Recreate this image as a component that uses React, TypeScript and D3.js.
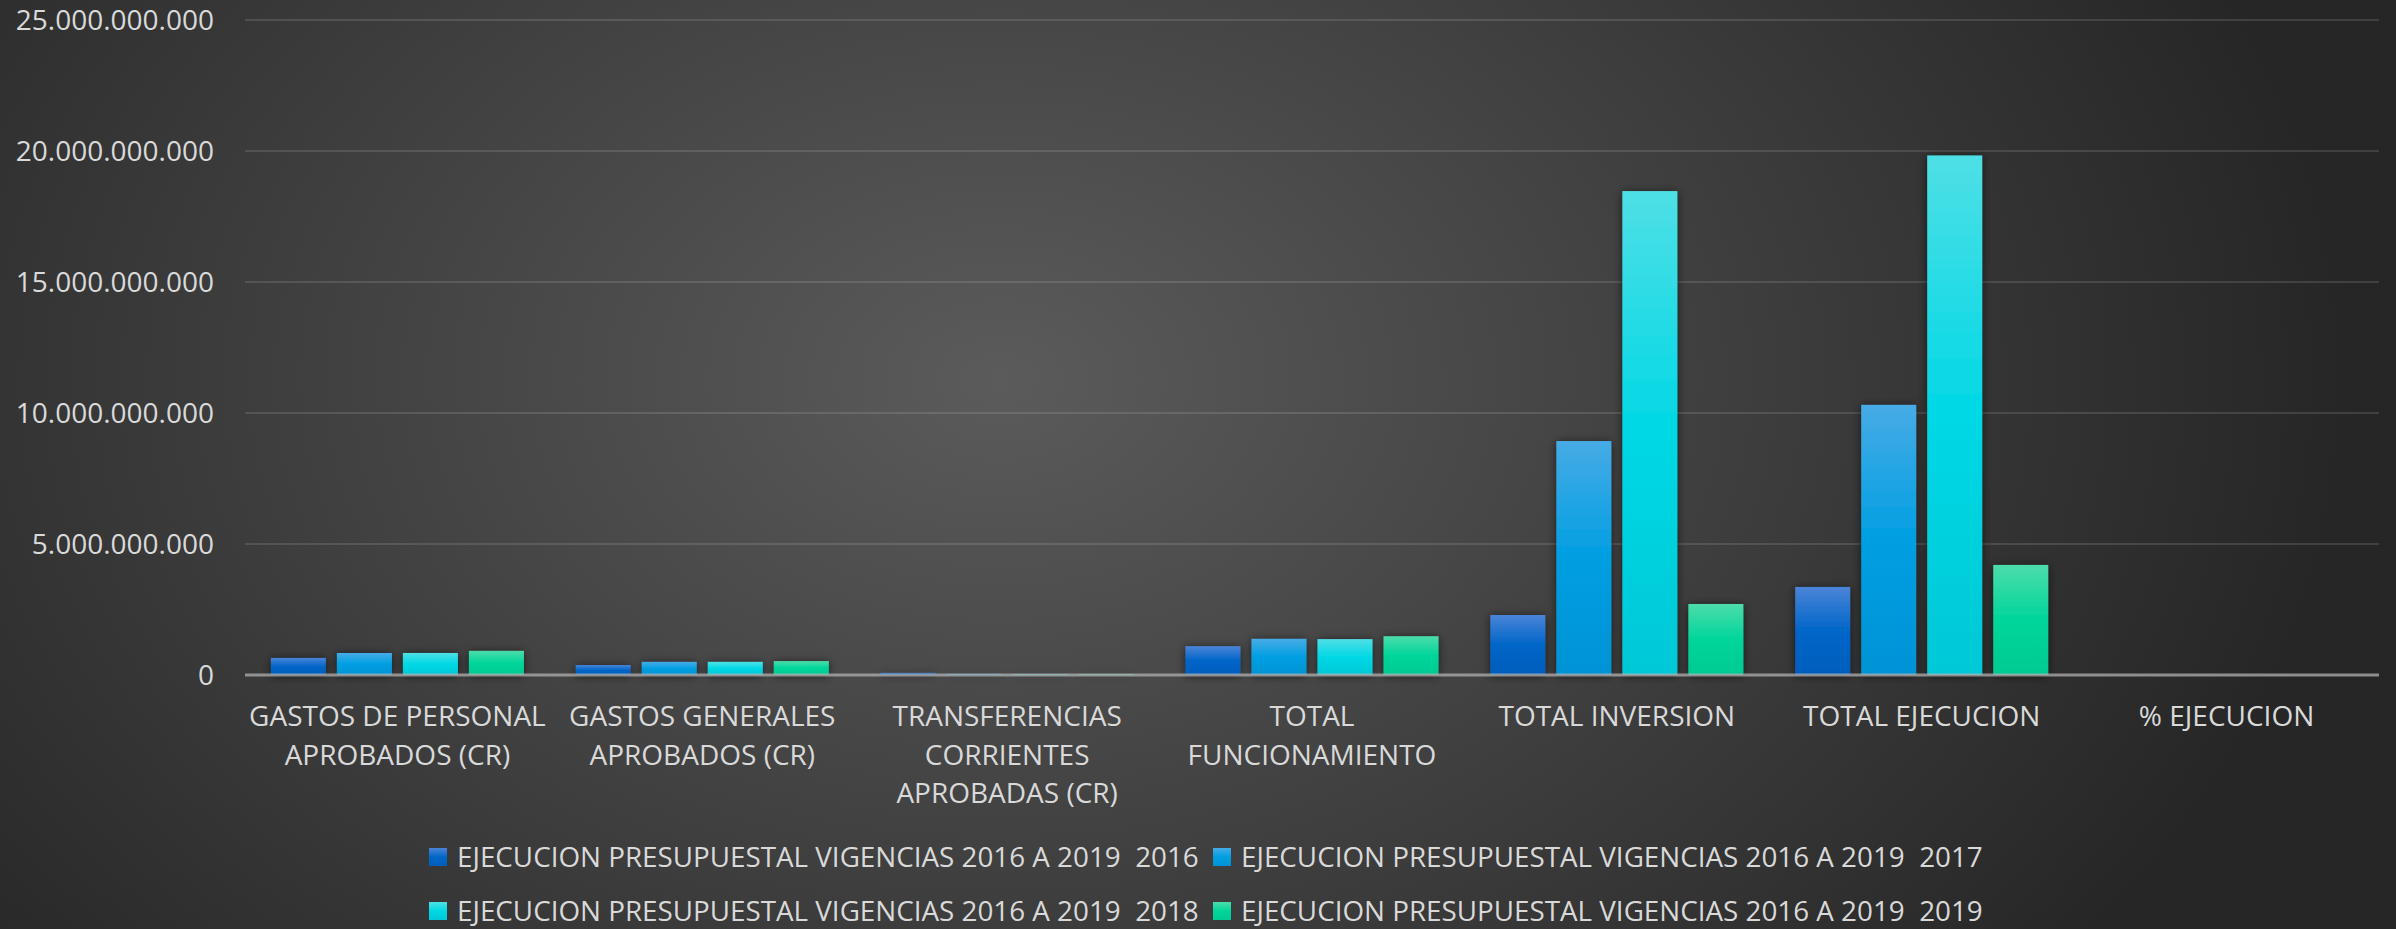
import { useRef, useEffect } from 'react'
import * as d3 from 'd3'

// chart data (pesos)
const categories = [
  'GASTOS DE PERSONAL\nAPROBADOS (CR)',
  'GASTOS GENERALES\nAPROBADOS (CR)',
  'TRANSFERENCIAS\nCORRIENTES\nAPROBADAS (CR)',
  'TOTAL\nFUNCIONAMIENTO',
  'TOTAL INVERSION',
  'TOTAL EJECUCION',
  '% EJECUCION',
]
const years = ['2016', '2017', '2018', '2019']
const values2016 = [0.65e9, 0.38e9, 0.08e9, 1.1e9, 2.29e9, 3.36e9, 0.9]
const values2017 = [0.84e9, 0.5e9, 0.04e9, 1.38e9, 8.93e9, 10.31e9, 0.92]
const values2018 = [0.84e9, 0.5e9, 0.03e9, 1.37e9, 18.47e9, 19.83e9, 0.95]
const values2019 = [0.92e9, 0.53e9, 0.03e9, 1.48e9, 2.71e9, 4.2e9, 0.97]
const yTicks = [0, 5e9, 10e9, 15e9, 20e9, 25e9]
const seriesPrefix = 'EJECUCION PRESUPUESTAL VIGENCIAS 2016 A 2019  '

const seriesValues = [values2016, values2017, values2018, values2019]
// top / mid / bottom colours of each bar gradient
const seriesColors = [
  ['#4b84d8', '#0066c8', '#005ebd'],
  ['#47abe6', '#009fe2', '#0093d5'],
  ['#4fdfe6', '#00d8e5', '#00c8d7'],
  ['#4cdcab', '#00d69a', '#00ca92'],
]

const W = 2396
const H = 929
const FONT = "'Open Sans', 'Noto Sans', sans-serif"

const App = () => {
  const svgRef = useRef<SVGSVGElement>(null)

  useEffect(() => {
    const svg = d3.select(svgRef.current)
    svg.selectAll('*').remove()

    const defs = svg.append('defs')
    const bg = defs.append('radialGradient')
      .attr('id', 'bg')
      .attr('gradientUnits', 'userSpaceOnUse')
      .attr('cx', 1000).attr('cy', 380).attr('r', 1)
      .attr('gradientTransform', 'translate(1000,380) scale(1350,950) translate(-1000,-380)')
    bg.append('stop').attr('offset', '0').attr('stop-color', '#5b5b5b')
    bg.append('stop').attr('offset', '1').attr('stop-color', '#262626')

    seriesColors.forEach((c, i) => {
      const g = defs.append('linearGradient')
        .attr('id', `bar${i}`)
        .attr('x1', 0).attr('y1', 0).attr('x2', 0).attr('y2', 1)
      g.append('stop').attr('offset', '0').attr('stop-color', c[0])
      g.append('stop').attr('offset', '0.5').attr('stop-color', c[1])
      g.append('stop').attr('offset', '1').attr('stop-color', c[2])
    })

    defs.append('filter')
      .attr('id', 'shadow')
      .attr('x', '-30%').attr('y', '-10%').attr('width', '160%').attr('height', '120%')
      .append('feDropShadow')
      .attr('dx', 0).attr('dy', 1)
      .attr('stdDeviation', 5)
      .attr('flood-color', '#000')
      .attr('flood-opacity', 0.6)

    svg.append('rect')
      .attr('width', W).attr('height', H)
      .attr('fill', 'url(#bg)')

    // scales
    const x = d3.scaleBand()
      .domain(categories)
      .range([245, 2379])
      .paddingInner(0.17)
      .paddingOuter(0.085)
    const xs = d3.scaleBand()
      .domain(years)
      .range([0, x.bandwidth()])
      .paddingInner(0.167)
    const y = d3.scaleLinear()
      .domain([0, 25e9])
      .range([675, 20])

    const locale = d3.formatLocale({ decimal: ',', thousands: '.', grouping: [3], currency: ['$', ''] })
    const fmt = locale.format(',.0f')

    // gridlines
    svg.append('g')
      .selectAll('line')
      .data(yTicks.filter(t => t > 0))
      .join('line')
        .attr('x1', 245).attr('x2', 2379)
        .attr('y1', d => y(d)).attr('y2', d => y(d))
        .attr('stroke', '#ffffff')
        .attr('stroke-opacity', 0.12)
        .attr('stroke-width', 2)

    // y axis labels
    svg.append('g')
      .selectAll('text')
      .data(yTicks)
      .join('text')
        .attr('x', 214)
        .attr('y', d => y(d))
        .attr('dy', '0.36em')
        .attr('text-anchor', 'end')
        .attr('fill', '#d9d9d9')
        .style('font-family', FONT)
        .style('font-size', '28px')
        .text(d => fmt(d))

    // bars
    years.forEach((yr, si) => {
      svg.append('g')
        .attr('filter', 'url(#shadow)')
        .selectAll('rect')
        .data(seriesValues[si])
        .join('rect')
          .attr('x', (d, i) => x(categories[i])! + xs(yr)!)
          .attr('width', xs.bandwidth())
          .attr('y', d => y(d))
          .attr('height', d => y(0) - y(d))
          .attr('fill', `url(#bar${si})`)
    })

    // category axis line
    svg.append('line')
      .attr('x1', 245).attr('x2', 2379)
      .attr('y1', y(0)).attr('y2', y(0))
      .attr('stroke', '#b0b0b0')
      .attr('stroke-opacity', 0.75)
      .attr('stroke-width', 3)

    // category labels
    const xl = svg.append('g')
      .selectAll('text')
      .data(categories)
      .join('text')
        .attr('text-anchor', 'middle')
        .attr('fill', '#d9d9d9')
        .style('font-family', FONT)
        .style('font-size', '28px')
    xl.each(function (d) {
      const t = d3.select(this)
      const cx = x(d)! + x.bandwidth() / 2
      d.split('\n').forEach((line, li) => {
        t.append('tspan')
          .attr('x', cx)
          .attr('y', 726 + li * 38.5)
          .text(line)
      })
    })

    // legend
    const lg = svg.append('g')
      .selectAll('g')
      .data(years)
      .join('g')
        .attr('transform', (d, i) => `translate(${429 + (i % 2) * 784}, ${857 + Math.floor(i / 2) * 54})`)
    lg.append('rect')
      .attr('x', 0).attr('y', -9)
      .attr('width', 18).attr('height', 18)
      .attr('fill', (d, i) => `url(#bar${i})`)
    lg.append('text')
      .attr('x', 28)
      .attr('dy', '0.36em')
      .attr('fill', '#d9d9d9')
      .attr('xml:space', 'preserve')
      .style('white-space', 'pre')
      .style('font-family', FONT)
      .style('font-size', '27.8px')
      .text(d => seriesPrefix + d)
  }, [])

  return (
    <div style={{ position: 'absolute', left: 0, top: 0 }}>
      <svg ref={svgRef} width={W} height={H} style={{ display: 'block' }}></svg>
    </div>
  )
}

export default App
